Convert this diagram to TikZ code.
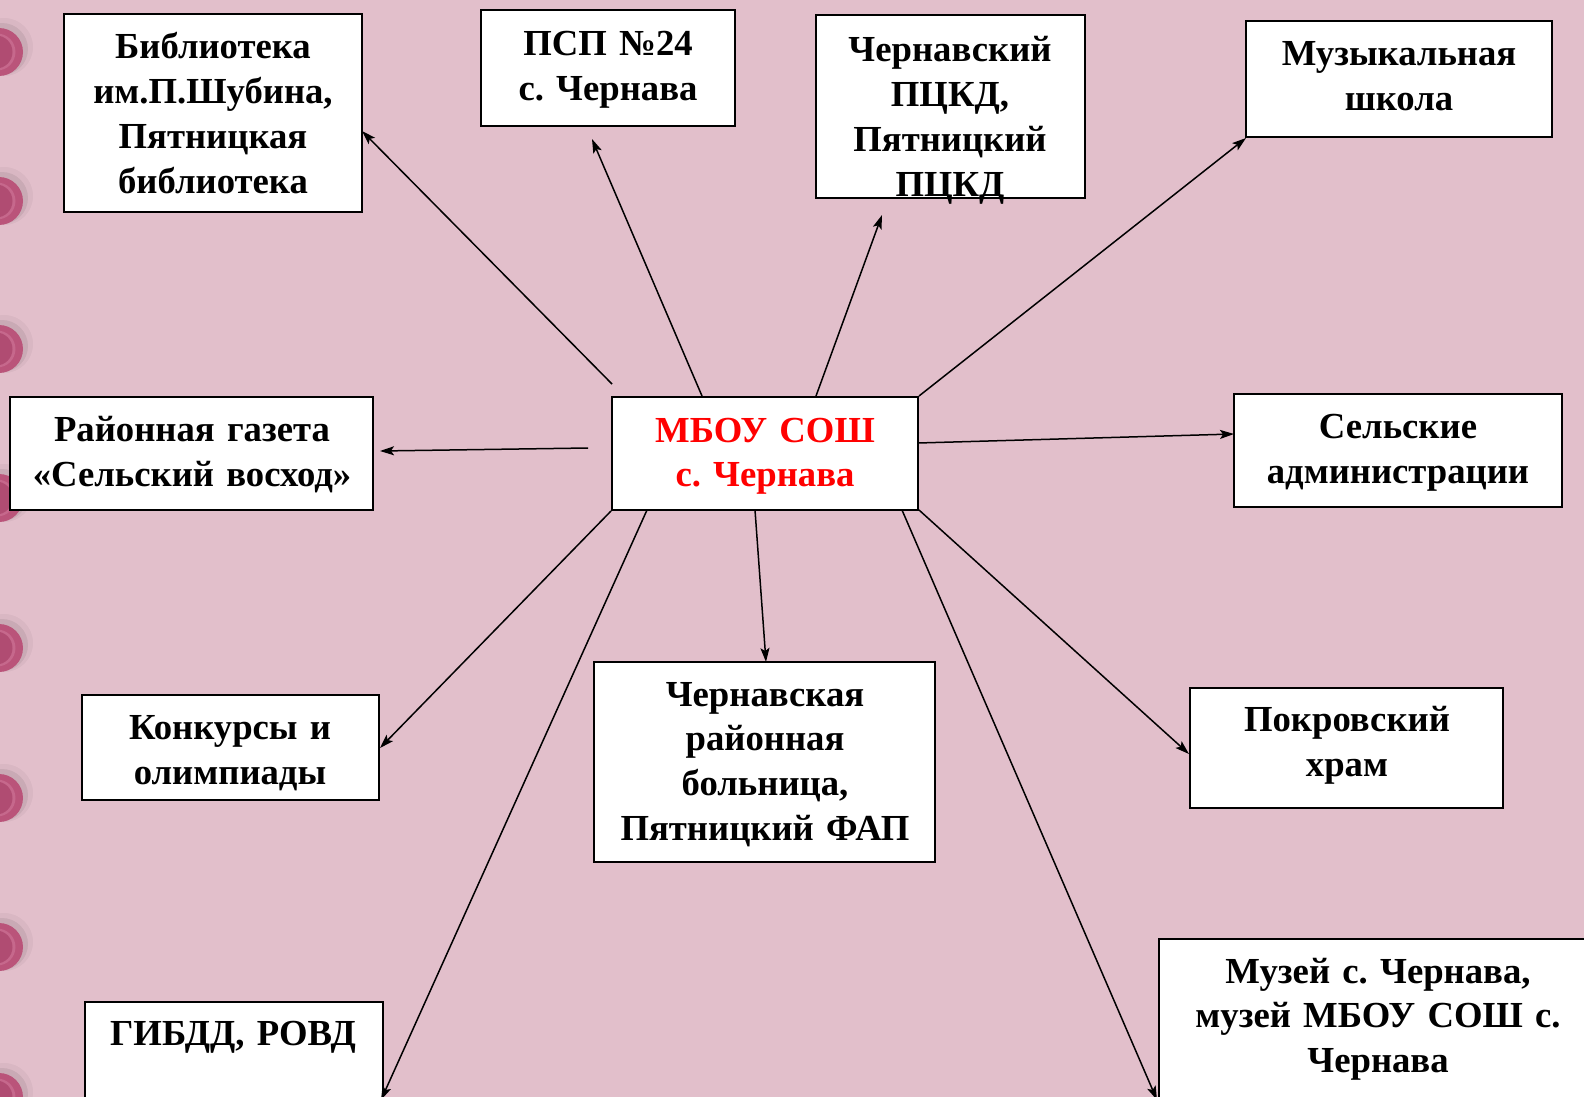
\documentclass[tikz,border=0pt]{standalone}
\usepackage{fontspec}
\setmainfont{Liberation Serif}
\usetikzlibrary{arrows.meta}
\frenchspacing
\definecolor{bgpink}{RGB}{226,191,203}
\definecolor{ring}{RGB}{186,84,122}
\definecolor{ringdark}{RGB}{176,76,114}
\definecolor{ringlight}{RGB}{198,104,140}
\begin{document}
\begin{tikzpicture}[x=1pt,y=-1pt,
  box/.style={draw=black,fill=white,line width=2pt,inner sep=0pt},
  lbl/.style={anchor=base,inner sep=0pt,text width=520pt,align=center,
    font=\bfseries\fontsize{36.7}{44.8}\selectfont},
  mainlbl/.style={anchor=base,inner sep=0pt,text width=520pt,align=center,text=red,
    font=\bfseries\fontsize{36.7}{44}\selectfont},
  link/.style={line width=1.5pt,-{Stealth[length=14pt,width=9pt,inset=3pt]}}]
\clip (0,0) rectangle (1584,1097);
\fill[bgpink] (0,0) rectangle (1584,1097);
% binder rings
\foreach \yy in {52,201,349,498,648,798,947,1097}{
  \fill[black,opacity=0.04] (4,\yy-5) circle (29);
  \fill[black,opacity=0.07] (2,\yy-3) circle (26);
  \fill[ring] (-1,\yy) circle (24);
  \fill[ringlight] (-3,\yy) circle (18.5);
  \fill[ringdark] (-4,\yy) circle (16.5);
}
% boxes
\node[box,minimum width=298pt,minimum height=198pt] (lib) at (213,113) {};
\node[box,minimum width=254pt,minimum height=116pt] (psp) at (608,68) {};
\node[box,minimum width=269pt,minimum height=183pt] (pckd) at (950.5,106.5) {};
\node[box,minimum width=306pt,minimum height=116pt] (music) at (1399,79) {};
\node[box,minimum width=363pt,minimum height=113pt] (gazeta) at (191.5,453.5) {};
\node[box,minimum width=306pt,minimum height=113pt] (school) at (765,453.5) {};
\node[box,minimum width=328pt,minimum height=113pt] (admin) at (1398,450.5) {};
\node[box,minimum width=297pt,minimum height=105pt] (konk) at (230.5,747.5) {};
\node[box,minimum width=341pt,minimum height=200pt] (hosp) at (764.5,762) {};
\node[box,minimum width=313pt,minimum height=120pt] (church) at (1346.5,748) {};
\node[box,minimum width=298pt,minimum height=148pt] (gibdd) at (234,1076) {};
\node[box,minimum width=441pt,minimum height=211pt] (museum) at (1379.5,1044.5) {};
% texts
\node[lbl] (tlib) at (213,59) {Библиотека\\им.П.Шубина,\\Пятницкая\\библиотека};
\node[lbl] (tpsp) at (608,56) {ПСП №24\\с. Чернава};
\node[lbl] (tpckd) at (950,62) {Чернавский\\ПЦКД,\\Пятницкий\\ПЦКД};
\node[lbl] (tmusic) at (1399,66) {Музыкальная\\школа};
\node[lbl] (tgazeta) at (192,441.5) {Районная газета\\«Сельский восход»};
\node[mainlbl] (tschool) at (765,442.5) {МБОУ СОШ\\с. Чернава};
\node[lbl] (tadmin) at (1398,438.5) {Сельские\\администрации};
\node[lbl] (tkonk) at (230,739.5) {Конкурсы и\\олимпиады};
\node[lbl] (thosp) at (765,706) {Чернавская\\районная\\больница,\\Пятницкий ФАП};
\node[lbl] (tchurch) at (1347,731.5) {Покровский\\храм};
\node[lbl] (tgibdd) at (233,1045) {ГИБДД, РОВД};
\node[lbl] (tmuseum) at (1378,983) {Музей с. Чернава,\\музей МБОУ СОШ с.\\Чернава};
% connector end points
\coordinate (s1) at (612,384);  \coordinate (e1) at (362,131);
\coordinate (s2) at (702,396);  \coordinate (e2) at (592,139);
\coordinate (s3) at (816,396);  \coordinate (e3) at (882,215);
\coordinate (e4) at (1246,138);
\coordinate (s5) at (588,448);  \coordinate (e5) at (380,451);
\coordinate (s6) at (918,443);  \coordinate (e6) at (1234,434);
\coordinate (e7) at (380,748);
\coordinate (s8) at (647,510);  \coordinate (e8) at (381,1100);
\coordinate (s9) at (755,510);  \coordinate (e9) at (766,662);
\coordinate (s10) at (919,510); \coordinate (e10) at (1189,754);
\coordinate (s11) at (902,510); \coordinate (e11) at (1157,1100);
% connectors
\draw[link] (s1) -- (e1);
\draw[link] (s2) -- (e2);
\draw[link] (s3) -- (e3);
\draw[link] (school.north east) -- (e4);
\draw[link] (s5) -- (e5);
\draw[link] (s6) -- (e6);
\draw[link] (school.south west) -- (e7);
\draw[link] (s8) -- (e8);
\draw[link] (s9) -- (e9);
\draw[link] (s10) -- (e10);
\draw[link] (s11) -- (e11);
\end{tikzpicture}
\end{document}
